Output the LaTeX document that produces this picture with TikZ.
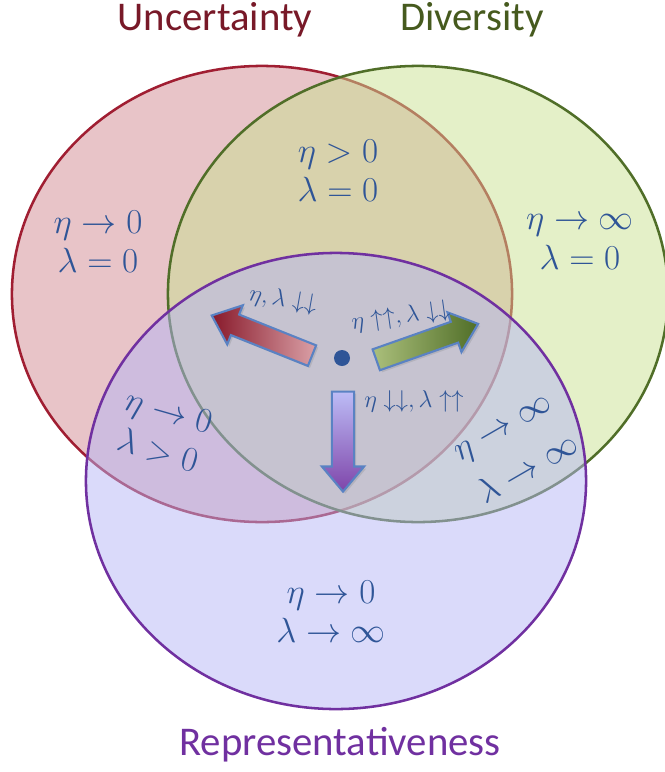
\documentclass[tikz,border=0pt]{standalone}
\usepackage[no-math]{fontspec}
\setmainfont{Carlito}
\usetikzlibrary{shapes.geometric,shapes.arrows,shadows}

\definecolor{redline}{RGB}{160,30,50}
\definecolor{redfill}{RGB}{209,137,145}
\definecolor{greenline}{RGB}{80,110,40}
\definecolor{greenfill}{RGB}{201,225,145}
\definecolor{purpleline}{RGB}{112,48,160}
\definecolor{purplefill}{RGB}{181,181,245}
\definecolor{mathblue}{RGB}{47,85,151}
\definecolor{arrowline}{RGB}{90,130,195}
\definecolor{redtitle}{RGB}{120,25,40}
\definecolor{greentitle}{RGB}{70,90,30}

\tikzset{
  venn/.style={ellipse, inner sep=0pt, minimum width=12.5cm, minimum height=11.4cm,
    fill opacity=0.5, line width=1.8pt},
  title/.style={font=\fontsize{29}{34}\selectfont},
  cond/.style={text=mathblue, font=\fontsize{23}{28}\selectfont},
  tiny cond/.style={text=mathblue, inner sep=0pt, font=\fontsize{18}{21}\selectfont},
  fatarrow/.style={single arrow, draw=arrowline, line width=1.5pt, inner xsep=0pt,
    inner ysep=0.25cm, single arrow head extend=0.25cm, single arrow tip angle=80,
    minimum height=2.7cm, drop shadow={shadow xshift=1.5pt, shadow yshift=-1.5pt, opacity=0.25}}
}

\begin{document}
\begin{tikzpicture}[x=0.025cm, y=-0.025cm]
            \useasboundingbox (0,0) rectangle (665,772);

            % Draw sets
            \node[venn, fill=redfill, draw=redline] (unc) at (262,294) {};
            \node[venn, fill=greenfill, draw=greenline] (div) at (418,294) {};
            \node[venn, fill=purplefill, draw=purpleline] (rep) at (336,481) {};

            % Draw titles
            \node[title, text=redtitle] (uncTitle) at (215,20) {Uncertainty};
            \node[title, text=greentitle] (divTitle) at (472,20) {Diversity};
            \node[title, text=purpleline] (repTitle) at (340,745) {Representativeness};

            % Draw conditions
            \node[cond, align=center] (uncOnly) at (98,242) {$\eta\to0$\\$\lambda=0$};
            \node[cond, align=center] (uncDiv) at (338,171) {$\eta>0$\\$\lambda=0$};
            \node[cond, align=center] (divOnly) at (580,242) {$\eta\to\infty$\\$\lambda=0$};
            \node[cond, inner sep=0pt, rotate=-16] (uncRepEta) at (168,414) {$\eta\to0$};
            \node[cond, inner sep=0pt, rotate=-16] (uncRepLam) at (158,450) {$\lambda>0$};
            \node[cond, inner sep=0pt, rotate=30] (divRepEta) at (505,431) {$\eta\to\infty$};
            \node[cond, inner sep=0pt, rotate=30] (divRepLam) at (527,467) {$\lambda\to\infty$};
            \node[cond, align=center] (repOnly) at (331,612) {$\eta\to0$\\$\lambda\to\infty$};

            % Draw centre and arrows
            \node[circle, fill=mathblue, inner sep=0pt, minimum size=0.4cm] (mid) at (342,358) {};
            \node[fatarrow, left color=redline!85!black, right color=redfill!80!white, rotate=158.2] (toUnc) at (268,338) {};
            \node[fatarrow, left color=greenfill!85!black, right color=greenline, rotate=19.4] (toDiv) at (421,344) {};
            \node[fatarrow, top color=purplefill!90!white, bottom color=purpleline!90!white, rotate=-90, minimum height=2.5cm] (toRep) at (343,435) {};

            % Draw arrow labels
            \node[tiny cond, rotate=-10] (toUncLbl) at (283,300) {$\eta,\lambda\downarrow\downarrow$};
            \node[tiny cond, rotate=8] (toDivLbl) at (401,317) {$\eta\uparrow\uparrow,\lambda\downarrow\downarrow$};
            \node[tiny cond] (toRepLbl) at (414,401) {$\eta\downarrow\downarrow,\lambda\uparrow\uparrow$};
        \end{tikzpicture}
\end{document}
